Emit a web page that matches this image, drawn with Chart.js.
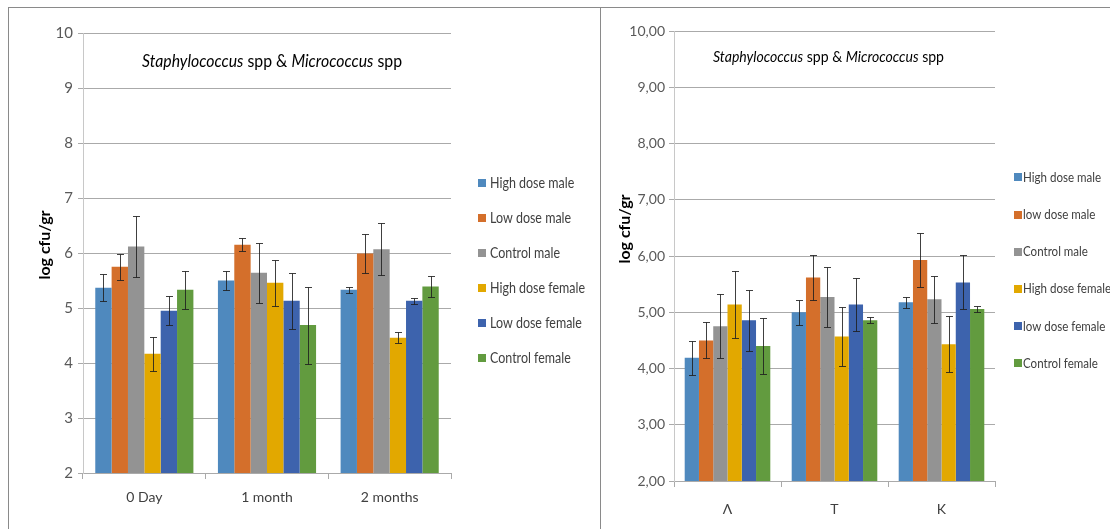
<!DOCTYPE html>
<html>
<head>
<meta charset="utf-8">
<script src="https://cdn.jsdelivr.net/npm/chart.js@4.4.1/dist/chart.umd.min.js"></script>
<style>
  html, body { margin: 0; padding: 0; background: #fff; width: 1110px; height: 529px; overflow: hidden; }
  #frameL { position: absolute; left: 8px; top: 7px; width: 593px; height: 530px; box-sizing: border-box;
            border-left: 1px solid #8a8a8a; border-top: 1px solid #8a8a8a; border-right: 1px solid #8a8a8a; }
  #frameR { position: absolute; left: 601px; top: 7px; width: 509px; height: 1px; background: #8a8a8a; }
  canvas { position: absolute; }
  #cL { left: 8px; top: 7px; }
  #cR { left: 600px; top: 7px; }
</style>
</head>
<body>
<div id="frameL"></div>
<div id="frameR"></div>
<canvas id="cL" width="592" height="522"></canvas>
<canvas id="cR" width="510" height="522"></canvas>
<script>
// ---- data: sampling time panel ----
const timeLabels = ['0 Day', '1 month', '2 months'];
const timeSeries = ['High dose male', 'Low dose male', 'Control male', 'High dose female', 'Low dose female', 'Control female'];
const timeHighMale      = [5.37, 5.50, 5.33];
const timeLowMale       = [5.75, 6.15, 5.99];
const timeControlMale   = [6.12, 5.64, 6.07];
const timeHighFemale    = [4.17, 5.46, 4.46];
const timeLowFemale     = [4.95, 5.13, 5.13];
const timeControlFemale = [5.33, 4.69, 5.39];
const timeHighMaleErr      = [0.25, 0.17, 0.05];
const timeLowMaleErr       = [0.24, 0.12, 0.36];
const timeControlMaleErr   = [0.55, 0.54, 0.47];
const timeHighFemaleErr    = [0.31, 0.42, 0.10];
const timeLowFemaleErr     = [0.26, 0.51, 0.05];
const timeControlFemaleErr = [0.34, 0.70, 0.19];
const timeTicks = [2, 3, 4, 5, 6, 7, 8, 9, 10];

// ---- data: group panel ----
const groupLabels = ['Λ', 'Τ', 'Κ'];
const groupSeries = ['High dose male', 'low dose male', 'Control male', 'High dose female', 'low dose female', 'Control female'];
const groupHighMale      = [4.19, 5.00, 5.18];
const groupLowMale       = [4.50, 5.62, 5.93];
const groupControlMale   = [4.75, 5.27, 5.23];
const groupHighFemale    = [5.14, 4.57, 4.43];
const groupLowFemale     = [4.86, 5.14, 5.53];
const groupControlFemale = [4.40, 4.86, 5.06];
const groupHighMaleErr      = [0.30, 0.22, 0.10];
const groupLowMaleErr       = [0.32, 0.40, 0.48];
const groupControlMaleErr   = [0.57, 0.53, 0.42];
const groupHighFemaleErr    = [0.60, 0.52, 0.50];
const groupLowFemaleErr     = [0.54, 0.47, 0.48];
const groupControlFemaleErr = [0.49, 0.06, 0.05];
const groupTicks = [2, 3, 4, 5, 6, 7, 8, 9, 10];

const seriesColors = ['#4F89BE', '#D46F2B', '#939393', '#E2A800', '#3D63AD', '#629B3F'];

const FONT = "Lato, 'DejaVu Sans', sans-serif";
const TITLE_PARTS = [
  { text: 'Staphylococcus', italic: true },
  { text: ' spp & ', italic: false },
  { text: 'Micrococcus', italic: true },
  { text: ' spp', italic: false }
];

function partFont(p, size) { return (p.italic ? 'italic ' : '') + size + 'px ' + FONT; }

const overlay = {
  id: 'overlay',
  afterDatasetsDraw(chart, args, o) {
    const ctx = chart.ctx;
    const ys = chart.scales.y;
    ctx.save();
    ctx.strokeStyle = 'rgba(30,30,30,0.85)';
    ctx.lineWidth = 1;
    chart.data.datasets.forEach((ds, i) => {
      const meta = chart.getDatasetMeta(i);
      meta.data.forEach((bar, j) => {
        const v = ds.data[j], e = ds.errors[j];
        const x = Math.round(bar.x) + 0.5;
        const yt = Math.round(ys.getPixelForValue(v + e)) + 0.5;
        const yb = Math.round(ys.getPixelForValue(v - e)) + 0.5;
        ctx.beginPath();
        ctx.moveTo(x, yt); ctx.lineTo(x, yb);
        ctx.moveTo(x - 3.5, yt); ctx.lineTo(x + 3.5, yt);
        ctx.moveTo(x - 3.5, yb); ctx.lineTo(x + 3.5, yb);
        ctx.stroke();
      });
    });
    ctx.restore();
  },
  afterDraw(chart, args, o) {
    const ctx = chart.ctx;
    ctx.save();
    ctx.textBaseline = 'middle';
    ctx.textAlign = 'left';

    // chart title with italic genus names, narrowed horizontally to the title width
    const T = o.title;
    let total = 0;
    TITLE_PARTS.forEach(p => { ctx.font = partFont(p, T.size); total += ctx.measureText(p.text).width; });
    const tsx = Math.min(1, T.width / total);
    ctx.save();
    ctx.translate(T.cx - total * tsx / 2, T.cy);
    ctx.scale(tsx, 1);
    ctx.fillStyle = '#000';
    let x = 0;
    TITLE_PARTS.forEach(p => {
      ctx.font = partFont(p, T.size);
      ctx.fillText(p.text, x, 0);
      x += ctx.measureText(p.text).width;
    });
    ctx.restore();

    // legend
    const L = o.legend;
    ctx.font = L.size + 'px ' + FONT;
    const longest = chart.data.datasets.reduce((a, d) => Math.max(a, ctx.measureText(d.label).width), 0);
    const lsx = Math.min(1, L.width / longest);
    chart.data.datasets.forEach((d, i) => {
      const y = L.y0 + i * L.dy;
      ctx.fillStyle = d.backgroundColor;
      ctx.fillRect(L.sx, Math.round(y - L.box / 2), L.box, L.box);
      ctx.save();
      ctx.translate(L.tx, y);
      ctx.scale(lsx, 1);
      ctx.fillStyle = '#404040';
      ctx.fillText(d.label, 0, 0);
      ctx.restore();
    });

    // y axis title
    const Y = o.yTitle;
    ctx.translate(Y.x, Y.y);
    ctx.rotate(-Math.PI / 2);
    ctx.font = 'bold ' + Y.size + 'px ' + FONT;
    ctx.fillStyle = '#000';
    ctx.textAlign = 'center';
    ctx.fillText('log cfu/gr', 0, 0);
    ctx.restore();
  }
};

function build(canvasId, labels, names, values, errs, ticks, cfg) {
  const datasets = names.map((n, i) => ({
    label: n,
    data: values[i],
    errors: errs[i],
    backgroundColor: seriesColors[i],
    borderWidth: 0,
    barPercentage: 1.0,
    categoryPercentage: 0.8
  }));
  return new Chart(document.getElementById(canvasId), {
    type: 'bar',
    data: { labels, datasets },
    options: {
      responsive: false,
      animation: false,
      devicePixelRatio: 1,
      layout: { padding: cfg.padding },
      plugins: {
        legend: { display: false },
        tooltip: { enabled: false },
        overlay: cfg.overlay
      },
      scales: {
        x: {
          grid: { display: true, drawOnChartArea: false, offset: true, tickLength: 6, color: '#aaaaaa' },
          border: { color: '#aaaaaa' },
          ticks: { font: { family: FONT, size: cfg.xFont }, color: '#404040', padding: cfg.xPad },
          afterFit: s => { s.height = cfg.xHeight; }
        },
        y: {
          min: ticks[0],
          max: ticks[ticks.length - 1],
          afterBuildTicks: s => { s.ticks = ticks.map(v => ({ value: v })); },
          grid: { color: '#aaaaaa', tickLength: 5 },
          border: { color: '#c8c8c8' },
          ticks: { font: { family: FONT, size: cfg.yFont }, color: '#595959', padding: cfg.yPad, callback: cfg.fmt },
          afterFit: s => { s.width = cfg.yWidth; }
        }
      }
    },
    plugins: [overlay]
  });
}

build('cL', timeLabels, timeSeries,
  [timeHighMale, timeLowMale, timeControlMale, timeHighFemale, timeLowFemale, timeControlFemale],
  [timeHighMaleErr, timeLowMaleErr, timeControlMaleErr, timeHighFemaleErr, timeLowFemaleErr, timeControlFemaleErr],
  timeTicks,
  {
    padding: { top: 26, right: 149, bottom: 16, left: 0 },
    yWidth: 75, xHeight: 40, xFont: 14, yFont: 15, xPad: 10, yPad: 5,
    fmt: v => String(v),
    overlay: {
      title: { cx: 264, cy: 54, width: 260, size: 18 },
      legend: { sx: 470, tx: 482, y0: 176.3, dy: 35, box: 8, width: 95, size: 15 },
      yTitle: { x: 37, y: 238, size: 16 }
    }
  });

build('cR', groupLabels, groupSeries,
  [groupHighMale, groupLowMale, groupControlMale, groupHighFemale, groupLowFemale, groupControlFemale],
  [groupHighMaleErr, groupLowMaleErr, groupControlMaleErr, groupHighFemaleErr, groupLowFemaleErr, groupControlFemaleErr],
  groupTicks,
  {
    padding: { top: 24, right: 115, bottom: 8, left: 0 },
    yWidth: 74, xHeight: 40, xFont: 14, yFont: 14, xPad: 14, yPad: 4,
    fmt: v => v.toFixed(2).replace('.', ','),
    overlay: {
      title: { cx: 228.5, cy: 49.6, width: 231, size: 16 },
      legend: { sx: 414, tx: 423, y0: 170.3, dy: 37.2, box: 8, width: 88, size: 14 },
      yTitle: { x: 25, y: 222, size: 16 }
    }
  });
</script>
</body>
</html>
